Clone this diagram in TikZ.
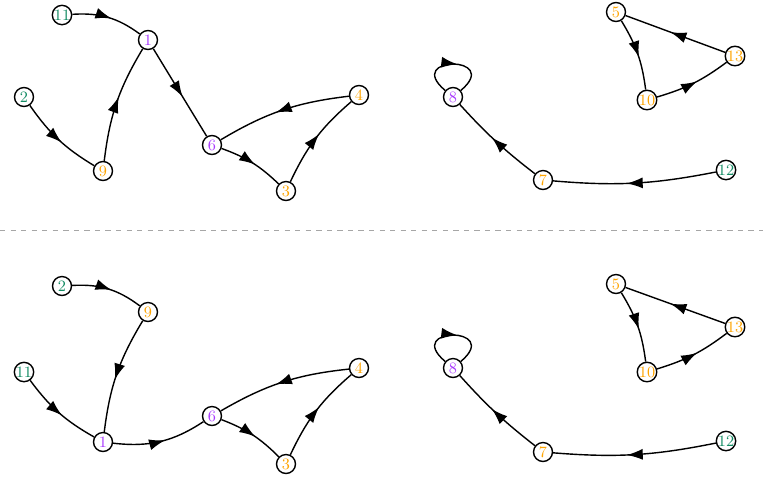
\documentclass[tikz,border=0pt]{standalone}
\usetikzlibrary{decorations.markings,arrows.meta}
\definecolor{srcgreen}{RGB}{20,140,100}
\definecolor{midpurple}{RGB}{170,60,255}
\definecolor{sinkorange}{RGB}{255,165,0}
\tikzset{
	vtx/.style={shape=circle,draw,thick,fill=white,inner sep=0pt,minimum size=0.38cm,font=\small},
	src/.style={vtx,text=srcgreen},
	mid/.style={vtx,text=midpurple},
	sink/.style={vtx,text=sinkorange},
	arc/.style={thick,postaction={decorate},decoration={markings,
		mark=at position 0.55 with {\arrow{Latex[length=3.2mm,width=2.2mm]}}}}
}
\begin{document}
\begin{tikzpicture}[x=0.02cm,y=-0.02cm]
	\useasboundingbox (0,0) rectangle (763,478);
	\draw[dashed,gray!70] (0,230) -- (763,230);
	% upper graph
	\node[src] (a11) at (62,15) {11};
	\node[mid] (a1) at (148,40) {1};
	\node[src] (a2) at (24,97) {2};
	\node[sink] (a9) at (103,171) {9};
	\node[mid] (a6) at (212,145) {6};
	\node[sink] (a3) at (286,191) {3};
	\node[sink] (a4) at (359,95) {4};
	\node[mid] (a8) at (453,97) {8};
	\node[sink] (a7) at (543,180) {7};
	\node[src] (a12) at (726,170) {12};
	\node[sink] (a5) at (616,12) {5};
	\node[sink] (a13) at (735,56) {13};
	\node[sink] (a10) at (647,100) {10};
	\draw[arc] (a11) to[bend left=20] (a1);
	\draw[arc] (a1) -- (a6);
	\draw[arc] (a9) to[bend left=12] (a1);
	\draw[arc] (a2) to[bend right=12] (a9);
	\draw[arc] (a6) to[bend left=12] (a3);
	\draw[arc] (a3) to[bend left=12] (a4);
	\draw[arc] (a4) to[bend right=12] (a6);
	\draw[arc] (a8) to[out=140,in=40,looseness=9] (a8);
	\draw[arc] (a7) to[bend left=5] (a8);
	\draw[arc] (a12) to[bend left=8] (a7);
	\draw[arc] (a5) to[bend left=12] (a10);
	\draw[arc] (a10) to[bend right=10] (a13);
	\draw[arc] (a13) -- (a5);
	% lower graph
	\node[src] (b2) at (62,286) {2};
	\node[sink] (b9) at (148,312) {9};
	\node[src] (b11) at (24,372) {11};
	\node[mid] (b1) at (103,442) {1};
	\node[mid] (b6) at (212,416) {6};
	\node[sink] (b3) at (286,464) {3};
	\node[sink] (b4) at (359,368) {4};
	\node[mid] (b8) at (453,368) {8};
	\node[sink] (b7) at (543,452) {7};
	\node[src] (b12) at (726,441) {12};
	\node[sink] (b5) at (616,284) {5};
	\node[sink] (b13) at (735,327) {13};
	\node[sink] (b10) at (647,372) {10};
	\draw[arc] (b2) to[bend left=20] (b9);
	\draw[arc] (b9) to[bend right=12] (b1);
	\draw[arc] (b11) to[bend right=12] (b1);
	\draw[arc] (b1) to[bend right=20] (b6);
	\draw[arc] (b6) to[bend left=12] (b3);
	\draw[arc] (b3) to[bend left=12] (b4);
	\draw[arc] (b4) to[bend right=12] (b6);
	\draw[arc] (b8) to[out=140,in=40,looseness=9] (b8);
	\draw[arc] (b7) to[bend left=5] (b8);
	\draw[arc] (b12) to[bend left=8] (b7);
	\draw[arc] (b5) to[bend left=12] (b10);
	\draw[arc] (b10) to[bend right=10] (b13);
	\draw[arc] (b13) -- (b5);
\end{tikzpicture}
\end{document}
